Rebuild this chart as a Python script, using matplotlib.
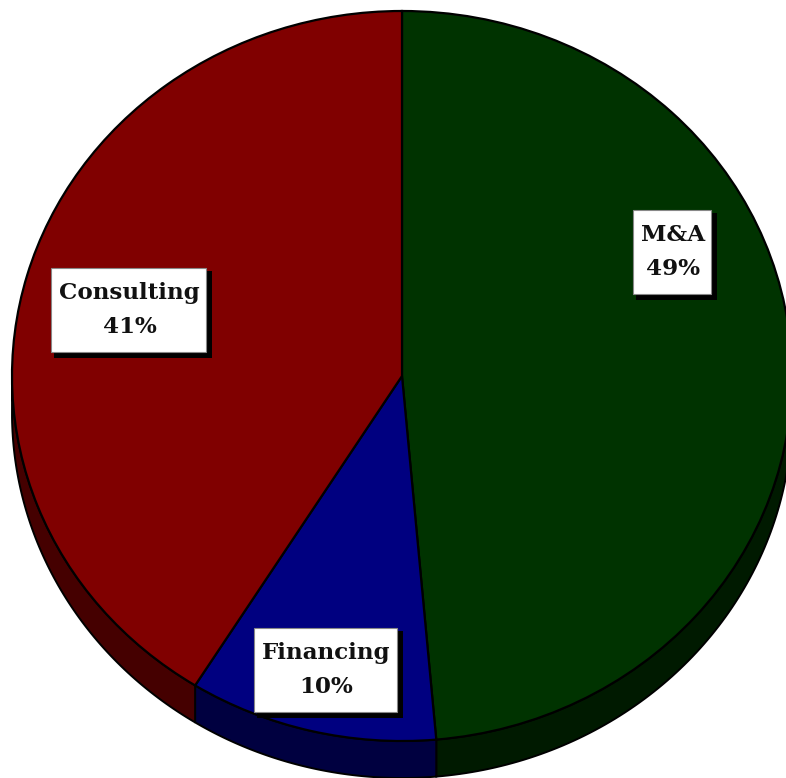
import matplotlib
matplotlib.use('Agg')
import matplotlib.pyplot as plt
from matplotlib.patches import Rectangle
from matplotlib.transforms import Affine2D
import numpy as np

# shares as drawn (the printed labels are rounded)
slices = ['M&A', 'Financing', 'Consulting']
shares = [48.6, 10.3, 41.1]
pct_labels = ['49%', '10%', '41%']
top_colors = ['#003300', '#000080', '#800000']
side_colors = ['#001a00', '#000040', '#450000']

W, H = 786, 778
cx, cy, rx, ry = 402, 376, 390, 365
depth = 37 / ry

# box layout in pixels: left, top, right, bottom
boxes = [(633, 210, 711, 294), (254, 628, 397, 712), (51, 268, 206, 352)]

fig = plt.figure(figsize=(W / 100, H / 100), dpi=100)
ax = fig.add_axes([0, 0, 1, 1])

wedges, _ = ax.pie(shares, colors=top_colors, startangle=90, counterclock=False,
                   wedgeprops=dict(edgecolor='black', linewidth=1.6, zorder=3))

ax.set_aspect('auto')
ax.set_xlim(-cx / rx, (W - cx) / rx)
ax.set_ylim((cy - H) / ry, cy / ry)
ax.axis('off')

# extruded side, only the part of each slice that faces down
for w, c in zip(wedges, side_colors):
    t = np.radians(np.linspace(w.theta1, w.theta2, 200))
    t = t[np.sin(t) <= 0]
    if len(t) == 0:
        continue
    xs, ys = np.cos(t), np.sin(t)
    ax.fill(np.r_[xs, xs[::-1]], np.r_[ys, ys[::-1] - depth],
            fc=c, ec='black', lw=1.4, zorder=2)

# label boxes with hard drop shadow, placed in pixels
px = Affine2D().scale(1, -1).translate(0, H)
for name, pct, (l, t, r, b) in zip(slices, pct_labels, boxes):
    ax.add_patch(Rectangle((l + 3, t + 3), r - l + 3, b - t + 3, fc='black', ec='none',
                           transform=px, zorder=4))
    ax.add_patch(Rectangle((l, t), r - l, b - t, fc='white', ec='#888888', lw=0.8,
                           transform=px, zorder=5))
    ax.text((l + r) / 2 + 1, t + 25, name, transform=px, ha='center', va='center', zorder=6,
            family=['DejaVu Serif'], weight='bold', fontsize=16.6, color='#111111')
    ax.text((l + r) / 2 + 1, t + 59, pct, transform=px, ha='center', va='center', zorder=6,
            family=['DejaVu Serif'], weight='bold', fontsize=16.6, color='#111111')

fig.savefig('out.png', dpi=100, facecolor='white')
